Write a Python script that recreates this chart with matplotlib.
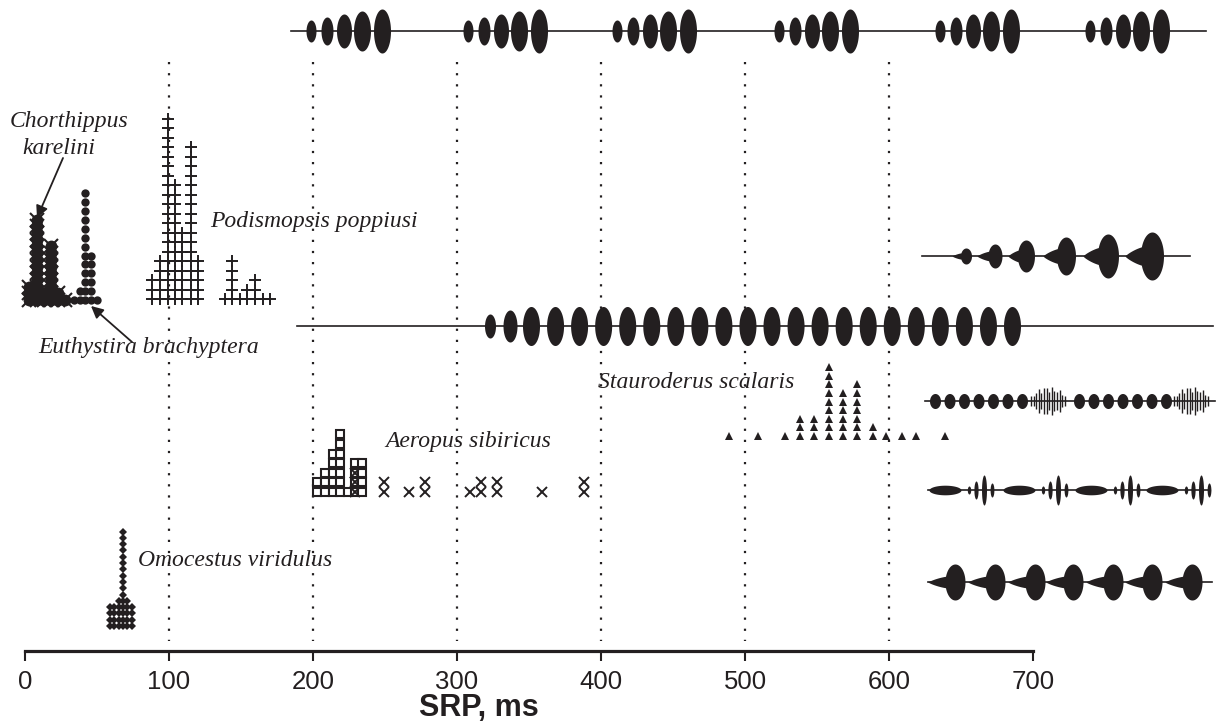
import matplotlib
matplotlib.use('Agg')
import matplotlib.pyplot as plt
import numpy as np
from matplotlib import font_manager

# SRP histograms: bin position (ms) and number of records stacked in that bin
chorth_srp = [3, 8, 13, 18, 23, 28]
chorth_n = [3, 13, 2, 9, 2, 1]

euthy_srp = [34, 38, 42, 46, 50]
euthy_n = [1, 2, 13, 6, 1]

podis_srp = [88, 94, 99, 104, 109, 115, 120, 139, 144, 149, 154, 160, 165, 170]
podis_n = [3, 5, 20, 13, 8, 17, 5, 1, 5, 1, 2, 3, 1, 1]

aerop_sq_srp = [203, 208, 214, 219, 224, 229, 234]
aerop_sq_n = [2, 3, 5, 7, 1, 4, 4]
aerop_x_srp = [229, 249, 267, 278, 309, 317, 328, 359, 388]
aerop_x_n = [3, 2, 1, 2, 1, 2, 2, 1, 2]

staur_srp = [489, 509, 528, 538, 548, 558, 568, 578, 589, 598, 609, 619, 639]
staur_n = [1, 1, 1, 3, 3, 9, 6, 7, 2, 1, 1, 1, 1]

omoc_srp = [59, 62, 65, 68, 71, 74]
omoc_n = [4, 4, 5, 16, 5, 4]

grid_x = [100, 200, 300, 400, 500, 600]
ticks = [0, 100, 200, 300, 400, 500, 600, 700]

INK = '#231f20'
names = {f.name for f in font_manager.fontManager.ttflist}
sans = 'Liberation Sans Narrow' if 'Liberation Sans Narrow' in names else 'Liberation Sans'
tick_size = 22 if sans == 'Liberation Sans Narrow' else 18.5

W, H = 1216, 722
fig = plt.figure(figsize=(W / 100, H / 100), dpi=100)

# data axes: x in ms, y in pixel rows (layout only)
ax = fig.add_axes([0, 0, 1, 1])
ax.set_xlim(-25 / 1.44, (W - 25) / 1.44)
ax.set_ylim(H, 0)
ax.patch.set_alpha(0)

# overlay in pixel coords for drawings and labels
deco = fig.add_axes([0, 0, 1, 1], zorder=-1)
deco.set_xlim(0, W)
deco.set_ylim(H, 0)
deco.axis('off')

for s in ['top', 'left', 'right']:
    ax.spines[s].set_visible(False)
ax.spines['bottom'].set_position(('data', 651))
ax.spines['bottom'].set_bounds(0, 700)
ax.spines['bottom'].set_linewidth(2.3)
ax.spines['bottom'].set_color(INK)
ax.set_yticks([])
ax.set_xticks(ticks)
ax.tick_params(axis='x', direction='out', length=7, width=1.5, color=INK,
               pad=7, labelsize=tick_size, labelcolor=INK)
for lab in ax.get_xticklabels():
    lab.set_fontfamily(sans)

ax.vlines(grid_x, 62, 641, colors=INK, linestyles=(0, (1, 4)), lw=1.6)


def stack(xs, ns, base, step, **kw):
    px, py = [], []
    for x, n in zip(xs, ns):
        for k in range(n):
            px.append(x)
            py.append(base - k * step)
    ax.plot(px, py, linestyle='none', **kw)


stack(chorth_srp, chorth_n, 300, 6.7, marker='o', ms=8.5, color=INK, mew=0)
stack(chorth_srp, chorth_n, 300, 6.7, marker='x', ms=10, color=INK, mew=1.5)
stack(euthy_srp, euthy_n, 300, 8.9, marker='o', ms=6, color=INK, mew=0)
stack(podis_srp, podis_n, 299, 9.5, marker='+', ms=9, color=INK, mew=1.4)
stack(aerop_sq_srp, aerop_sq_n, 492, 9.6, marker='s', ms=6.3, mfc='white',
      mec=INK, mew=1.5)
stack(aerop_x_srp, aerop_x_n, 492, 9.6, marker='x', ms=6.5, color=INK, mew=1.4)
stack(staur_srp, staur_n, 436, 8.6, marker='^', ms=6, color=INK, mew=0)
stack(omoc_srp, omoc_n, 626, 6.3, marker='D', ms=4.2, color=INK, mew=0)


# ---- oscillograms (schematic drawings) ----
def ell(xx, c, w, h):
    return h * np.sqrt(np.clip(1 - ((xx - c) / w) ** 2, 0, None))


def bell(xx, s, c, w, h, th):
    env = ell(xx, c, w, h)
    m = (xx >= s) & (xx <= c)
    tail = np.zeros_like(xx)
    tail[m] = th * np.sin(np.pi / 2 * (xx[m] - s) / (c - s)) ** 0.8
    return np.maximum(env, tail)


def draw(y0, x0, x1, env, xx):
    deco.plot([x0, x1], [y0, y0], color=INK, lw=1.2)
    deco.fill_between(xx, y0 - env, y0 + env, color=INK, lw=0)


xx = np.linspace(280, 1216, 8000)

# 1: top, groups of five growing syllables
env = np.zeros_like(xx)
for g in [311, 468, 617, 779, 940, 1090]:
    for o, w, h in zip([0, 16, 33, 51, 71], [5, 6, 7.5, 8.5, 8.5], [11, 14, 17, 20, 22]):
        env = np.maximum(env, ell(xx, g + o, w, h))
draw(31, 291, 1206, env, xx)

# 2: Podismopsis
env = np.zeros_like(xx)
for s, c, w, h in zip([952, 977, 1008, 1043, 1083, 1125],
                      [966, 995, 1026, 1066, 1108, 1152],
                      [5.5, 7, 8.5, 9.5, 10.5, 11.5], [8, 12, 16, 19, 22, 24]):
    env = np.maximum(env, bell(xx, s, c, w, h, 0.45 * h))
draw(256, 922, 1190, env, xx)

# 3: long train
env = np.zeros_like(xx)
env = np.maximum(env, ell(xx, 490, 5.5, 12))
env = np.maximum(env, ell(xx, 510, 7, 16))
for k in range(21):
    env = np.maximum(env, ell(xx, 531 + k * 24.05, 8.5, 19.5))
draw(326, 297, 1213, env, xx)

# 4: Stauroderus
env = np.zeros_like(xx)
for o in [0, 144]:
    for k in range(7):
        env = np.maximum(env, ell(xx, 935 + o + k * 14.5, 5.5, 7.5))
draw(401, 925, 1215, env, xx)
for o in [0, 143]:
    bx = np.arange(1031, 1067, 2.6) + o
    bh = 15 * np.sin(np.pi * (bx - 1029 - o) / 39) ** 0.6 * (0.8 + 0.2 * np.cos(np.arange(len(bx)) * 2.3))
    deco.vlines(bx, 401 - bh, 401 + bh, color=INK, lw=1.0)

# 5: Aeropus
env = np.zeros_like(xx)
for c in [945, 1019, 1091, 1162]:
    env = np.maximum(env, ell(xx, c, 16, 4.8))
    for o, w, h in zip([24, 31, 39, 47], [1.7, 2.1, 2.5, 1.9], [4, 9, 15, 7]):
        env = np.maximum(env, ell(xx, c + o, w, h))
draw(490, 928, 1210, env, xx)

# 6: Omocestus
env = np.zeros_like(xx)
for c in [955, 995, 1035, 1073, 1113, 1152, 1192]:
    env = np.maximum(env, bell(xx, c - 27, c, 10, 18, 6.5))
draw(582, 928, 1212, env, xx)

# ---- labels ----
serif = dict(family='Liberation Serif', style='italic', size=17, color=INK, va='center')
deco.text(10, 122, 'Chorthippus', **serif)
deco.text(22, 149, 'karelini', **serif)
deco.text(210, 222, 'Podismopsis poppiusi', **serif)
deco.text(38, 348, 'Euthystira brachyptera', **serif)
deco.text(598, 383, 'Stauroderus scalaris', **serif)
deco.text(385, 442, 'Aeropus sibiricus', **serif)
deco.text(138, 560, 'Omocestus viridulus', **serif)

arrow = dict(arrowstyle='-|>', lw=1.3, color=INK, mutation_scale=18, shrinkA=0, shrinkB=0)
deco.annotate('', xy=(37, 218), xytext=(63, 158), arrowprops=arrow)
deco.annotate('', xy=(91, 306), xytext=(132, 342), arrowprops=arrow)

deco.text(479, 708, 'SRP, ms', family='Liberation Sans', weight='bold', size=22,
          color=INK, ha='center', va='center')

fig.savefig('out.png', dpi=100)
